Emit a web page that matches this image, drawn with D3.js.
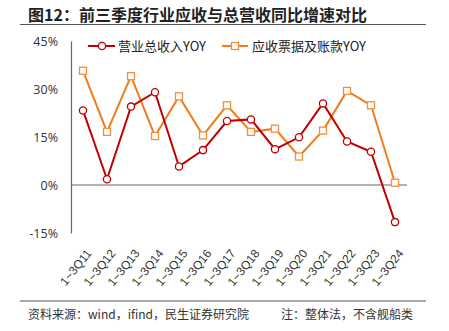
<!DOCTYPE html>
<html><head><meta charset="utf-8">
<script src="https://cdn.jsdelivr.net/npm/d3@7"></script>
<style>
html,body{margin:0;padding:0;background:#fff;}
svg{display:block;font-family:"Noto Sans CJK SC","Noto Sans",sans-serif;}
</style></head>
<body>
<svg id="c" width="449" height="331"></svg>
<script>
const categories = ["1~3Q11","1~3Q12","1~3Q13","1~3Q14","1~3Q15","1~3Q16","1~3Q17","1~3Q18","1~3Q19","1~3Q20","1~3Q21","1~3Q22","1~3Q23","1~3Q24"];
const revenueYoY = [23.3, 1.8, 24.5, 29.0, 5.8, 10.9, 20.0, 20.5, 11.2, 14.9, 25.5, 13.6, 10.4, -11.6];
const receivableYoY = [35.7, 16.6, 34.0, 15.3, 27.7, 15.5, 24.9, 16.6, 17.6, 8.9, 17.0, 29.4, 24.9, 0.7];
const yTicks = [-15, 0, 15, 30, 45];
const seriesNames = ["营业总收入YOY", "应收票据及账款YOY"];
const title = "图12：前三季度行业应收与总营收同比增速对比";
const sourceText = "资料来源：wind，ifind，民生证券研究院";
const noteText = "注：整体法，不含舰船类";

const svg = d3.select("#c");
const red = "#C00000", orange = "#EE7D1A";

// title
svg.append("text").attr("x", 28).attr("y", 21).attr("font-size", 16).attr("font-weight", "bold")
  .attr("fill", "#222").text(title);
svg.append("line").attr("x1", 20).attr("x2", 426).attr("y1", 24.5).attr("y2", 24.5)
  .attr("stroke", "#555").attr("stroke-width", 1.2);
// footer
svg.append("line").attr("x1", 20).attr("x2", 426).attr("y1", 301).attr("y2", 301)
  .attr("stroke", "#555").attr("stroke-width", 1.2);
svg.append("text").attr("x", 28).attr("y", 319).attr("font-size", 12).attr("fill", "#333").text(sourceText);
svg.append("text").attr("x", 413).attr("y", 319).attr("font-size", 12).attr("fill", "#333")
  .attr("text-anchor", "end").text(noteText);

const x = d3.scaleBand().domain(categories).range([71, 407]);
const y = d3.scaleLinear().domain([-15, 45]).range([233, 41]);

// y tick labels
const yAxis = d3.axisLeft(y).tickValues(yTicks).tickFormat(d => d + "%").tickSize(0).tickPadding(13);
const gy = svg.append("g").attr("transform", "translate(71,0)").call(yAxis);
gy.select(".domain").attr("stroke", "#666").attr("stroke-width", 1.2);
gy.selectAll("text").attr("font-size", 12.5).attr("fill", "#333")
  .attr("font-family", "'Open Sans','Noto Sans',sans-serif");

// zero line
svg.append("line").attr("x1", 71).attr("x2", 407).attr("y1", y(0)).attr("y2", y(0))
  .attr("stroke", "#666").attr("stroke-width", 1.2);

// x labels
const xAxis = d3.axisBottom(x).tickSize(0);
const gx = svg.append("g").attr("transform", "translate(0,0)").call(xAxis);
gx.select(".domain").remove();
gx.selectAll(".tick").attr("transform", d => `translate(${x(d) + x.bandwidth() / 2 + 6},251)`);
gx.selectAll("text").attr("font-size", 12).attr("fill", "#333")
  .attr("font-family", "'Liberation Sans','Noto Sans',sans-serif")
  .attr("text-anchor", "end").attr("dy", "0.35em").attr("dx", 0).attr("y", 0)
  .attr("transform", "rotate(-51)");

const cx = d => x(d) + x.bandwidth() / 2;
const line = d3.line().x((d, i) => cx(categories[i])).y(d => y(d));

svg.append("path").datum(receivableYoY).attr("d", line).attr("fill", "none")
  .attr("stroke", orange).attr("stroke-width", 2);
svg.append("path").datum(revenueYoY).attr("d", line).attr("fill", "none")
  .attr("stroke", red).attr("stroke-width", 2);

svg.selectAll(".sq").data(receivableYoY).enter().append("rect")
  .attr("x", (d, i) => cx(categories[i]) - 3.5).attr("y", d => y(d) - 3.5)
  .attr("width", 7).attr("height", 7).attr("fill", "#fff").attr("stroke", "#F0903A").attr("stroke-width", 1.3);
svg.selectAll(".ci").data(revenueYoY).enter().append("circle")
  .attr("cx", (d, i) => cx(categories[i])).attr("cy", d => y(d)).attr("r", 3.6)
  .attr("fill", "#fff").attr("stroke", red).attr("stroke-width", 1.3);

// legend
const lg = svg.append("g");
lg.append("line").attr("x1", 88).attr("x2", 115).attr("y1", 46).attr("y2", 46).attr("stroke", red).attr("stroke-width", 2);
lg.append("circle").attr("cx", 102).attr("cy", 46).attr("r", 3.6).attr("fill", "#fff").attr("stroke", red).attr("stroke-width", 1.3);
lg.append("text").attr("x", 118).attr("y", 50.5).attr("font-size", 13).attr("fill", "#222").text(seriesNames[0]);
lg.append("line").attr("x1", 222).attr("x2", 248).attr("y1", 46).attr("y2", 46).attr("stroke", orange).attr("stroke-width", 2);
lg.append("rect").attr("x", 231.5).attr("y", 42.5).attr("width", 7).attr("height", 7).attr("fill", "#fff").attr("stroke", "#F0903A").attr("stroke-width", 1.3);
lg.append("text").attr("x", 252).attr("y", 50.5).attr("font-size", 13).attr("fill", "#222").text(seriesNames[1]);
</script>
</body></html>
